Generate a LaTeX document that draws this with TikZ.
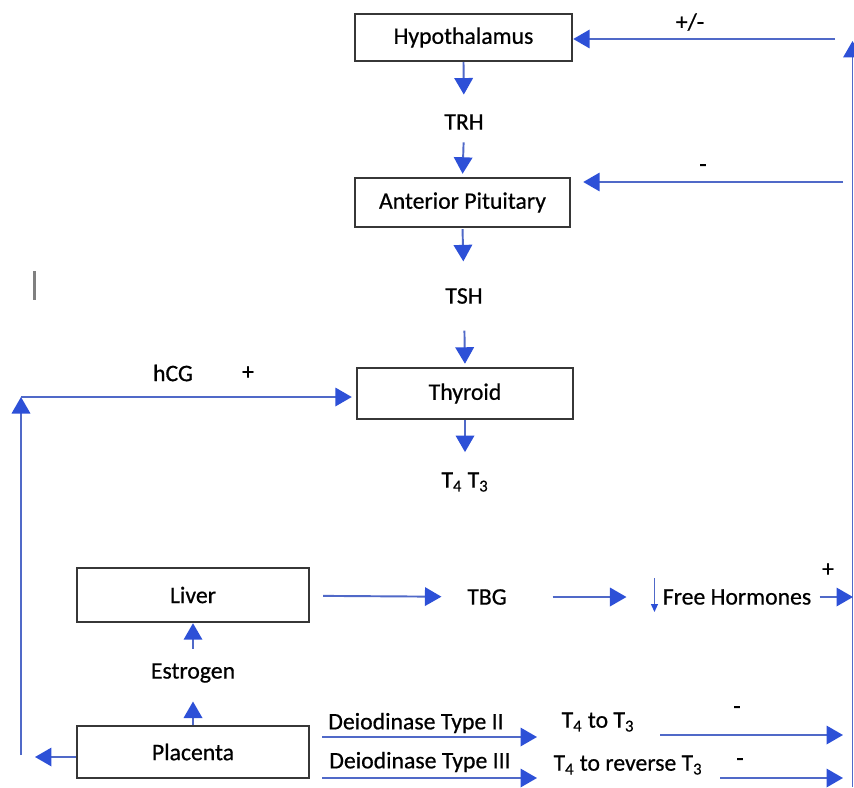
\documentclass[tikz,border=0pt]{standalone}
\usepackage{fontspec}
\setmainfont{Carlito}[FakeBold=0.6]
\usepackage{tikz}
\usetikzlibrary{arrows.meta}

\definecolor{lineblue}{RGB}{80,105,200}
\definecolor{tipblue}{RGB}{45,80,215}
\definecolor{boxgray}{RGB}{55,55,55}

\begin{document}
\begin{tikzpicture}[x=0.02cm,y=-0.02cm,
  box/.style={draw=boxgray,line width=1.4pt,inner sep=0pt,
    font=\fontsize{13.5}{16}\selectfont},
  lbl/.style={inner sep=0pt,font=\fontsize{13.5}{16}\selectfont},
  arr/.style={draw=lineblue,line width=1.1pt,
    -{Triangle[length=0.33cm,width=0.37cm,color=tipblue]}}]
\useasboundingbox (0,0) rectangle (854,787);

% boxes
\node[box,minimum width=4.34cm,minimum height=0.94cm] (hyp) at (463.5,37.5) {Hypothalamus};
\node[box,minimum width=4.3cm,minimum height=0.98cm] (ap) at (462.5,202.5) {Anterior Pituitary};
\node[box,minimum width=4.32cm,minimum height=1.02cm] (thy) at (465,393.5) {Thyroid};
\node[box,minimum width=4.64cm,minimum height=1.08cm] (liv) at (193,595) {Liver};
\node[box,minimum width=4.64cm,minimum height=1.04cm] (pla) at (193,752) {Placenta};

% labels
\node[lbl] (trh) at (464,122) {TRH};
\node[lbl] (tsh) at (464,296) {TSH};
\node[lbl] (t4t3) at (465,482) {T\textsubscript{4} T\textsubscript{3}};
\node[lbl] (est) at (193,673) {Estrogen};
\node[lbl] (tbg) at (487,597) {TBG};
\node[lbl] (free) at (737,597) {Free Hormones};
\node[lbl] (hcg) at (173,373) {hCG};
\node[lbl] (hcgp) at (248,373) {+};
\node[lbl] (fbhl) at (690,22) {+/-};
\node[lbl] (fbal) at (703,168) {-};
\node[lbl] (freep) at (828,570) {+};
\node[lbl] (dii) at (416,723) {Deiodinase Type II};
\node[lbl] (diii) at (420,762) {Deiodinase Type III};
\node[lbl] (t43) at (598,722) {T\textsubscript{4} to T\textsubscript{3}};
\node[lbl] (t4r) at (628,765) {T\textsubscript{4} to reverse T\textsubscript{3}};
\node[lbl] (t43m) at (737,710) {-};
\node[lbl] (t4rm) at (740,762) {-};

% free ends
\coordinate (fbh) at (835,39);
\coordinate (fba) at (843,182);
\coordinate (rbot) at (852.5,787);
\coordinate (rtop) at (852.5,41);
\coordinate (lbot) at (21,755);
\coordinate (hcgc) at (21,397);
\coordinate (plal) at (35,757);
\coordinate (fhend) at (853,597);
\coordinate (d2a) at (322,737);
\coordinate (d2b) at (537,737);
\coordinate (d3a) at (322,778);
\coordinate (d3b) at (537,778);
\coordinate (r2a) at (660,735);
\coordinate (r2b) at (843,735);
\coordinate (r3a) at (720,778);
\coordinate (r3b) at (843,778);

% axis
\draw[arr,shorten >=0.39cm] (hyp.south) -- (trh.north);
\draw[arr,shorten <=0.25cm,shorten >=0.06cm] (trh.south) -- (ap.north);
\draw[arr,shorten <=0.02cm,shorten >=0.53cm] (ap.south) -- (tsh.north);
\draw[arr,shorten <=0.53cm,shorten >=0.06cm] (tsh.south) -- (thy.north);
\draw[arr,shorten >=0.4cm] (thy.south) -- (t4t3.north);

% feedback
\draw[arr] (rbot) -- (rtop);
\draw[arr] (fbh) -- (fbh -| hyp.east);
\draw[arr,shorten >=0.24cm] (fba) -- (fba -| ap.east);

% placenta side
\draw[arr] (lbot) -- (hcgc);
\draw[arr,shorten >=0.08cm] (hcgc) -- (hcgc -| thy.west);
\draw[arr] (pla.west |- plal) -- (plal);
\draw[arr,shorten >=0.37cm] (pla.north) -- (est.south);
\draw[arr,shorten <=0.29cm] (est.north) -- (liv.south);

% binding globulin
\draw[arr,shorten <=0.26cm,shorten >=0.51cm] (liv) -- (tbg);
\draw[arr,shorten <=0.91cm,shorten >=0.72cm] (tbg) -- (free);
\draw[arr,shorten <=0.16cm] (free) -- (fhend);
\draw[draw=lineblue,line width=0.7pt,-{Triangle[length=0.16cm,width=0.14cm,color=tipblue]}]
  ([xshift=-0.16cm,yshift=0.38cm]free.west) -- ([xshift=-0.16cm,yshift=-0.3cm]free.west);

% deiodinases
\draw[arr] (d2a) -- (d2b);
\draw[arr] (d3a) -- (d3b);
\draw[arr] (r2a) -- (r2b);
\draw[arr] (r3a) -- (r3b);

% stray mark
\draw[gray,line width=2pt] (34.5,271) -- (34.5,300);
\end{tikzpicture}
\end{document}
